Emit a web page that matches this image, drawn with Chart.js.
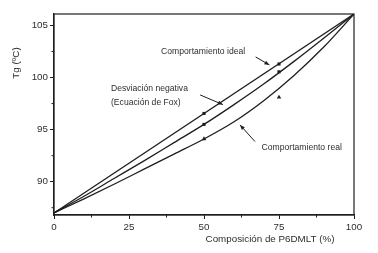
<!DOCTYPE html>
<html>
<head>
<meta charset="utf-8">
<script src="https://cdn.jsdelivr.net/npm/chart.js@4.4.0/dist/chart.umd.min.js"></script>
<style>
  html, body { margin: 0; padding: 0; background: #fff; }
  #grafico { display: block; }
</style>
</head>
<body>
<canvas id="grafico" width="378" height="253"></canvas>
<script>
// Dados (Tg em ºC x composição de P6DMLT em %)
const composicao = [0, 10, 20, 30, 40, 50, 60, 70, 80, 90, 100];
const tgFox = [87, 88.6, 90.3, 92.0, 93.75, 95.5, 97.4, 99.4, 101.55, 103.8, 106.1];
const tgReal = [87, 88.35, 89.75, 91.2, 92.65, 94.1, 95.75, 97.8, 100.2, 102.95, 106.1];

// linha ideal (reta entre os homopolímeros)
const composicaoIdeal = [0, 100];
const tgIdeal = [87, 106.1];

// pontos experimentais
const composicaoPontos = [50, 75];
const pontosIdeal = [96.55, 101.3];
const pontosFox = [95.5, 100.55];
const pontosReal = [94.1, 98.1];

const ticksX = [0, 25, 50, 75, 100];
const ticksY = [90, 95, 100, 105];
const ticksMenoresX = [12.5, 37.5, 62.5, 87.5];
const ticksMenoresY = [87.5, 92.5, 97.5, 102.5];

const COR = "#1e1e1e";
const COR_TEXTO = "#2e2e2e";
const FONTE = "'Liberation Sans', Arial, sans-serif";

function pares(xs, ys) {
  return xs.map((x, i) => ({ x: x, y: ys[i] }));
}

// Anotações: texto e setas (posições em coordenadas dos dados)
const textos = [
  { t: "Comportamiento ideal", x: 35.7, y: 102.5 },
  { t: "Desviación negativa", x: 19, y: 98.9 },
  { t: "(Ecuación de Fox)", x: 19, y: 97.6 },
  { t: "Comportamiento real", x: 69.2, y: 93.27 }
];
const setas = [
  { x1: 67.2, y1: 101.98, x2: 71.8, y2: 101.21 },
  { x1: 48.7, y1: 98.33, x2: 56.3, y2: 97.4 },
  { x1: 67, y1: 93.85, x2: 62, y2: 95.45 }
];

const pluginDesenho = {
  id: "desenho",
  afterDraw(chart) {
    const ctx = chart.ctx;
    const area = chart.chartArea;
    const sx = chart.scales.x;
    const sy = chart.scales.y;
    ctx.save();

    // moldura
    ctx.strokeStyle = COR;
    ctx.lineWidth = 1.2;
    ctx.strokeRect(area.left, area.top, area.right - area.left, area.bottom - area.top);

    // ticks menores
    ctx.lineWidth = 1;
    ctx.beginPath();
    ticksMenoresX.forEach(v => {
      const px = sx.getPixelForValue(v);
      ctx.moveTo(px, area.bottom);
      ctx.lineTo(px, area.bottom + 2.5);
    });
    ticksMenoresY.forEach(v => {
      const py = sy.getPixelForValue(v);
      ctx.moveTo(area.left, py);
      ctx.lineTo(area.left - 2.5, py);
    });
    ctx.stroke();

    // textos
    ctx.fillStyle = COR_TEXTO;
    ctx.font = "8.6px " + FONTE;
    ctx.textBaseline = "middle";
    ctx.textAlign = "left";
    textos.forEach(a => {
      ctx.fillText(a.t, sx.getPixelForValue(a.x), sy.getPixelForValue(a.y));
    });

    // setas
    ctx.strokeStyle = COR;
    ctx.fillStyle = COR;
    ctx.lineWidth = 1;
    setas.forEach(s => {
      const x1 = sx.getPixelForValue(s.x1), y1 = sy.getPixelForValue(s.y1);
      const x2 = sx.getPixelForValue(s.x2), y2 = sy.getPixelForValue(s.y2);
      const ang = Math.atan2(y2 - y1, x2 - x1);
      ctx.beginPath();
      ctx.moveTo(x1, y1);
      ctx.lineTo(x2, y2);
      ctx.stroke();
      ctx.beginPath();
      ctx.moveTo(x2, y2);
      ctx.lineTo(x2 - 5 * Math.cos(ang) + 2 * Math.sin(ang), y2 - 5 * Math.sin(ang) - 2 * Math.cos(ang));
      ctx.lineTo(x2 - 5 * Math.cos(ang) - 2 * Math.sin(ang), y2 - 5 * Math.sin(ang) + 2 * Math.cos(ang));
      ctx.closePath();
      ctx.fill();
    });

    // títulos dos eixos
    ctx.fillStyle = COR_TEXTO;
    ctx.font = "9.8px " + FONTE;
    ctx.textAlign = "center";
    ctx.fillText("Composición de P6DMLT (%)", 270, 239);
    ctx.translate(16, 63);
    ctx.rotate(-Math.PI / 2);
    ctx.fillText("Tg (ºC)", 0, 0);

    ctx.restore();
  }
};

function criarGrafico() {
  const ctx = document.getElementById("grafico");
  const linha = { showLine: true, borderColor: COR, borderWidth: 1.3, pointRadius: 0, fill: false };
  const marcador = { showLine: false, backgroundColor: COR, borderColor: COR, borderWidth: 0 };

  new Chart(ctx, {
    type: "scatter",
    data: {
      datasets: [
        Object.assign({ data: pares(composicaoIdeal, tgIdeal) }, linha),
        Object.assign({ data: pares(composicao, tgFox), cubicInterpolationMode: "monotone" }, linha),
        Object.assign({ data: pares(composicao, tgReal), cubicInterpolationMode: "monotone" }, linha),
        Object.assign({ data: pares(composicaoPontos, pontosIdeal), pointStyle: "rect", pointRadius: 2.2 }, marcador),
        Object.assign({ data: pares(composicaoPontos, pontosFox), pointStyle: "rect", pointRadius: 2.2 }, marcador),
        Object.assign({ data: pares(composicaoPontos, pontosReal), pointStyle: "triangle", pointRadius: 2.6 }, marcador)
      ]
    },
    options: {
      responsive: false,
      animation: false,
      layout: { padding: { left: 0, right: 24, top: 14, bottom: 0 } },
      plugins: {
        legend: { display: false },
        tooltip: { enabled: false }
      },
      scales: {
        x: {
          type: "linear",
          min: 0,
          max: 100,
          afterBuildTicks: s => { s.ticks = ticksX.map(v => ({ value: v })); },
          afterFit: s => { s.height = 38; },
          border: { display: true, color: COR, width: 1.2 },
          grid: { display: true, drawOnChartArea: false, drawTicks: true, tickLength: 4, color: COR },
          ticks: { color: COR_TEXTO, padding: 2, maxRotation: 0, font: { family: FONTE, size: 9.8 } }
        },
        y: {
          type: "linear",
          min: 86.8,
          max: 106.1,
          afterBuildTicks: s => { s.ticks = ticksY.map(v => ({ value: v })); },
          afterFit: s => { s.width = 54; },
          border: { display: true, color: COR, width: 1.2 },
          grid: { display: true, drawOnChartArea: false, drawTicks: true, tickLength: 4, color: COR },
          ticks: { color: COR_TEXTO, padding: 2, font: { family: FONTE, size: 9.8 } }
        }
      }
    },
    plugins: [pluginDesenho]
  });
}

criarGrafico();
</script>
</body>
</html>
